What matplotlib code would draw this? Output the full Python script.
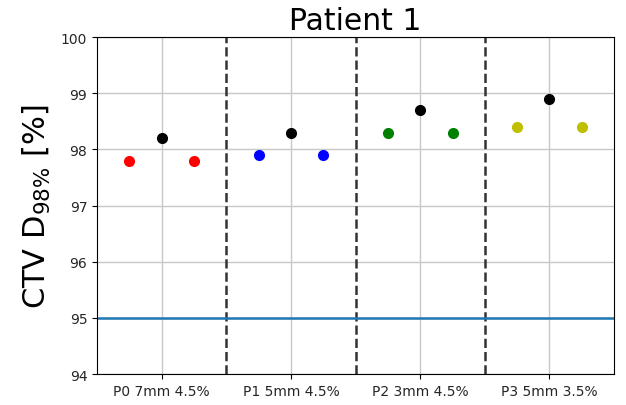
import matplotlib
matplotlib.use('Agg')
import matplotlib.pyplot as plt
import numpy as np

# group labels and values
group_labels = ['P0 7mm 4.5%', 'P1 5mm 4.5%', 'P2 3mm 4.5%', 'P3 5mm 3.5%']
group_colors = ['r', 'b', 'g', 'y']
left_values = [97.8, 97.9, 98.3, 98.4]
center_values = [98.2, 98.3, 98.7, 98.9]
right_values = [97.8, 97.9, 98.3, 98.4]
threshold = 95

fig = plt.figure(figsize=(6.26, 4.06), dpi=100)
ax = fig.add_axes([0.155, 0.076, 0.826, 0.830])

x = np.arange(len(group_labels))
offset = 0.25
for i in range(len(group_labels)):
    ax.plot(x[i] - offset, left_values[i], 'o', color=group_colors[i], markersize=7, zorder=3)
    ax.plot(x[i], center_values[i], 'o', color='k', markersize=7, zorder=3)
    ax.plot(x[i] + offset, right_values[i], 'o', color=group_colors[i], markersize=7, zorder=3)

# separators between the groups
for i in range(len(group_labels) - 1):
    ax.axvline(x[i] + 0.5, color='#333333', linestyle='--', linewidth=1.8, zorder=2)

ax.axhline(threshold, color='C0', linewidth=1.8, zorder=2)

ax.set_xlim(-0.5, len(group_labels) - 0.5)
ax.set_ylim(94, 100)
ax.set_xticks(x)
ax.set_xticklabels(group_labels, fontsize=10, color='#262626')
ax.tick_params(axis='y', labelsize=10, labelcolor='#262626')
ax.grid(True, color='#c8c8c8', linewidth=1, zorder=0)
ax.set_axisbelow(True)

ax.set_title('Patient 1', fontsize=21.5)
ax.set_ylabel('CTV D$_{98\\%}$ [%]', fontsize=22, labelpad=6)

plt.savefig('out.png', dpi=100)
